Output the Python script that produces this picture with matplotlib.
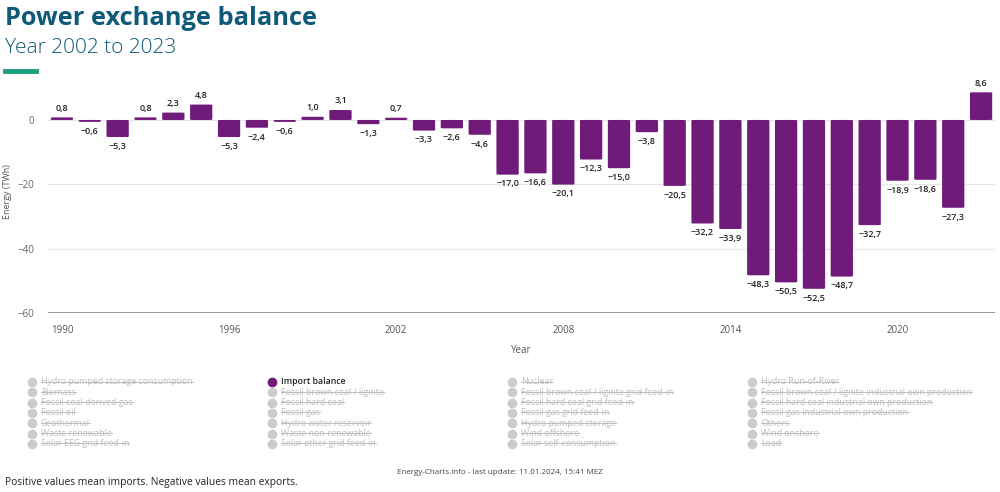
import numpy as np
import matplotlib
matplotlib.use('Agg')
import matplotlib.pyplot as plt
from matplotlib.patches import FancyBboxPatch

plt.rcParams['font.family'] = ['Open Sans', 'DejaVu Sans']

# data
years = list(range(1990, 2024))
balance = [0.8, -0.6, -5.3, 0.8, 2.3, 4.8, -5.3, -2.4, -0.6, 1.0,
           3.1, -1.3, 0.7, -3.3, -2.6, -4.6, -17.0, -16.6, -20.1, -12.3,
           -15.0, -3.8, -20.5, -32.2, -33.9, -48.3, -50.5, -52.5, -48.7, -32.7,
           -18.9, -18.6, -27.3, 8.6]
tick_years = [1990, 1996, 2002, 2008, 2014, 2020]
y_ticks = [0, -20, -40, -60]

legend_cols = [
    ['Hydro pumped storage consumption', 'Biomass', 'Fossil coal-derived gas', 'Fossil oil',
     'Geothermal', 'Waste renewable', 'Solar EEG grid feed-in'],
    ['Import balance', 'Fossil brown coal / lignite', 'Fossil hard coal', 'Fossil gas',
     'Hydro water reservoir', 'Waste non-renewable', 'Solar other grid feed-in'],
    ['Nuclear', 'Fossil brown coal / lignite grid feed-in', 'Fossil hard coal grid feed-in',
     'Fossil gas grid feed-in', 'Hydro pumped storage', 'Wind offshore', 'Solar self-consumption'],
    ['Hydro Run-of-River', 'Fossil brown coal / lignite industrial own production',
     'Fossil hard coal industrial own production', 'Fossil gas industrial own production',
     'Others', 'Wind onshore', 'Load'],
]
active = 'Import balance'

bar_color = '#701b7a'
title_color = '#0e5a78'

fig = plt.figure(figsize=(10, 4.92), dpi=100)
ax = fig.add_axes([0.048, 0.364, 0.947, 0.4575])

x = np.arange(len(years))
w = 0.8
for xi, v in zip(x, balance):
    h = abs(v)
    y0 = min(0, v)
    p = FancyBboxPatch((xi - w / 2, y0), w, h,
                       boxstyle='round,pad=0,rounding_size=0.08',
                       mutation_aspect=2.5,
                       facecolor=bar_color, edgecolor='none', zorder=3)
    ax.add_patch(p)
    lab = f'{v:.1f}'.replace('.', ',').replace('-', '\u2212')
    if v >= 0:
        ax.text(xi, v + 1.5, lab, ha='center', va='bottom', fontsize=6.5,
                color='#222222', fontweight='semibold')
    else:
        ax.text(xi, v - 1.5, lab, ha='center', va='top', fontsize=6.5,
                color='#222222', fontweight='semibold')

ax.set_xlim(-0.5, len(years) - 0.5)
ax.set_ylim(-60, 10)
ax.set_yticks(y_ticks)
ax.set_yticklabels([str(t).replace('-', '\u2212') for t in y_ticks], fontsize=7, color='#666666')
ax.set_xticks([years.index(t) for t in tick_years])
ax.set_xticklabels([str(t) for t in tick_years], fontsize=7, color='#555555')
ax.tick_params(axis='x', length=0, pad=9)
ax.tick_params(axis='y', length=0, pad=10)
for t in y_ticks[:-1]:
    ax.axhline(t, color='#e6e6e6', lw=0.8, zorder=1)
ax.axhline(-60, color='#999999', lw=1.5, zorder=2)
for s in ax.spines.values():
    s.set_visible(False)
ax.set_xlabel('Year', fontsize=7, color='#555555', labelpad=6)
ax.set_ylabel('Energy (TWh)', fontsize=6.5, color='#555555')
ax.yaxis.set_label_coords(-0.038, 0.54)

# title area
fig.text(0.005, 0.988, 'Power exchange balance', fontsize=18.3, fontweight='bold',
         color=title_color, va='top')
fig.text(0.005, 0.923, 'Year 2002 to 2023', fontsize=15, fontweight='light',
         color=title_color, va='top')
fig.add_artist(plt.Line2D([0.005, 0.036], [0.855, 0.855], color='#1d9e7c', lw=3.5))

# legend
col_x = [0.03, 0.27, 0.51, 0.75]
row_y0 = 1 - 382 / 492
row_dy = 10.3 / 492
for cx, items in zip(col_x, legend_cols):
    for i, name in enumerate(items):
        yy = row_y0 - i * row_dy
        on = name == active
        fig.add_artist(plt.Line2D([cx + 0.002], [yy], marker='o', markersize=6,
                                  color=bar_color if on else '#cccccc', lw=0))
        t = fig.text(cx + 0.011, yy, name, fontsize=6.3, va='center',
                     color='#222222' if on else '#bdbdbd',
                     fontweight='semibold' if on else 'normal')
        if not on:
            fig.canvas.draw()
            bb = t.get_window_extent().transformed(fig.transFigure.inverted())
            ym = yy + 0.5 / 492
            fig.add_artist(plt.Line2D([bb.x0, bb.x1], [ym, ym], color='#bdbdbd', lw=0.7))

fig.text(0.5, 1 - 472 / 492, 'Energy-Charts.info - last update: 11.01.2024, 15:41 MEZ',
         fontsize=5.8, color='#444444', ha='center', va='center')
fig.text(0.005, 1 - 483 / 492, 'Positive values mean imports. Negative values mean exports.',
         fontsize=7.4, color='#222222', va='center')

fig.savefig('out.png', dpi=100)
